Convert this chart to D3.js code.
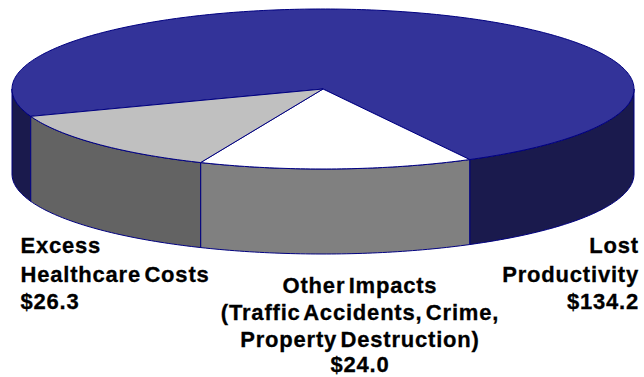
<!DOCTYPE html>
<html><head><meta charset="utf-8">
<script src="https://cdn.jsdelivr.net/npm/d3@7/dist/d3.min.js"></script>
<style>html,body{margin:0;padding:0;background:#fff}svg{display:block}
text{font-family:"Liberation Sans",Arial,sans-serif;font-weight:bold;font-size:22px;fill:#000;stroke:#000;stroke-width:.3px;letter-spacing:.8px;word-spacing:-3.5px}</style>
</head><body><div id="c"></div>
<script>
const categories = ["Lost Productivity", "Other Impacts", "Excess Healthcare Costs"];
const drawnValues = [134.2, 26.3, 24.0];
const topColors = ["#333399", "#ffffff", "#c0c0c0"];
const wallColors = ["#1a1a4d", "#808080", "#636363"];
const labelLines = [
  {anchor:"start", x:20.5, lines:[["Excess",253],["Healthcare Costs",281.5],["$26.3",309]]},
  {anchor:"middle", x:360, lines:[["Other Impacts",292.5],["(Traffic Accidents, Crime,",319.5],["Property Destruction)",346.5],["$24.0",372]]},
  {anchor:"end", x:639, lines:[["Lost",253],["Productivity",281.5],["$134.2",309]]}
];
const W=644,H=377,cx=323,cy=89,rx=311,ry=80,depth=85;
const svg=d3.select("#c").append("svg").attr("width",W).attr("height",H);
const sx=d3.scaleLinear().domain([-1,1]).range([cx-rx,cx+rx]);
const sy=d3.scaleLinear().domain([-1,1]).range([cy-ry,cy+ry]);
const startDeg=250;
const pie=d3.pie().sort(null).value(d=>d).startAngle(startDeg*Math.PI/180).endAngle((startDeg+360)*Math.PI/180);
const arcs=pie(drawnValues);
const px=a=>sx(Math.sin(a)), py=a=>sy(-Math.cos(a));
const line=d3.line().x(d=>d[0]).y(d=>d[1]);
const samples=(a0,a1)=>{const n=Math.max(2,Math.ceil(Math.abs(a1-a0)*60));return d3.range(n+1).map(i=>a0+(a1-a0)*i/n)};
const TAU=2*Math.PI;
// walls: the visible front part is angle pi/2 .. 3pi/2
arcs.forEach((d,i)=>{
  [0,TAU].forEach(off=>{
    const a0=Math.max(d.startAngle,Math.PI/2+off), a1=Math.min(d.endAngle,3*Math.PI/2+off);
    if(a1<=a0) return;
    const s=samples(a0,a1);
    const pts=s.map(a=>[px(a),py(a)]).concat(s.slice().reverse().map(a=>[px(a),py(a)+depth]));
    svg.append("path").attr("d",line(pts)+"Z").attr("fill",wallColors[i]).attr("stroke","#000080").attr("stroke-width",1).attr("stroke-linejoin","round");
  });
});
// top faces
arcs.forEach((d,i)=>{
  const pts=[[cx,cy]].concat(samples(d.startAngle,d.endAngle).map(a=>[px(a),py(a)]));
  svg.append("path").attr("d",line(pts)+"Z").attr("fill",topColors[i]).attr("stroke","#000080").attr("stroke-width",1).attr("stroke-linejoin","round");
});
labelLines.forEach(l=>{
  const t=svg.append("text").attr("text-anchor",l.anchor);
  l.lines.forEach(([s,y])=>t.append("tspan").attr("x",l.x).attr("y",y).text(s));
});
</script></body></html>
